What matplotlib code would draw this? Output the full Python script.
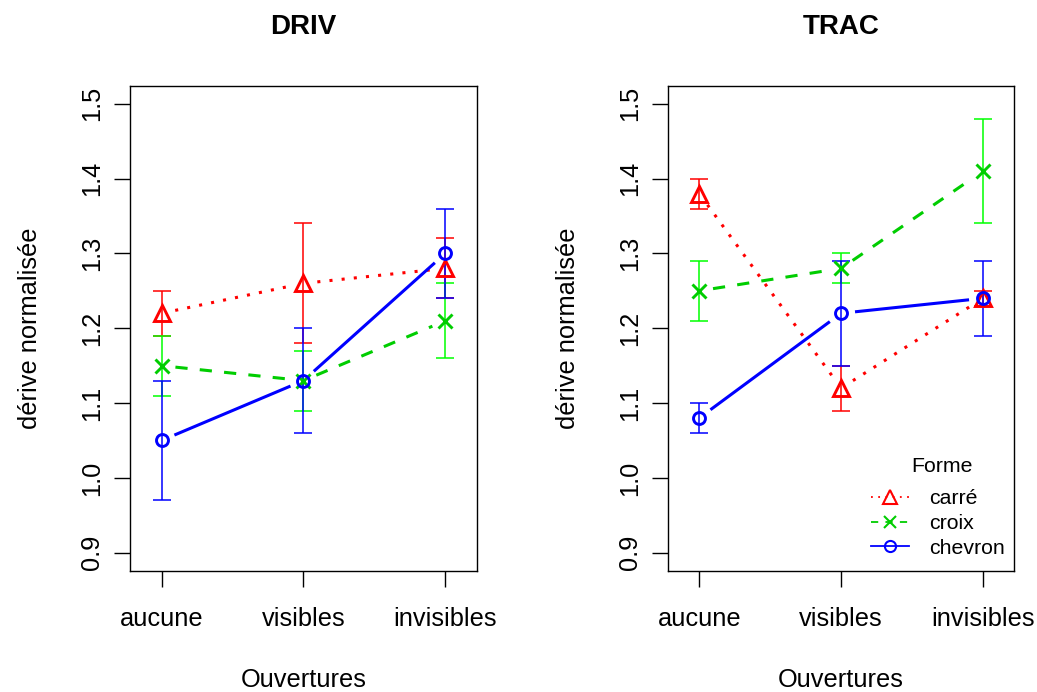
import numpy as np
import matplotlib
matplotlib.use("Agg")
import matplotlib.pyplot as plt
from matplotlib.lines import Line2D

plt.rcParams['font.family'] = ['Liberation Sans', 'DejaVu Sans']

# ---------------- data ----------------
ouvertures = ["aucune", "visibles", "invisibles"]
formes = ["carré", "croix", "chevron"]

# DRIV panel
driv_carre = [1.22, 1.26, 1.28]
driv_carre_lo = [1.19, 1.18, 1.24]
driv_carre_hi = [1.25, 1.34, 1.32]
driv_croix = [1.15, 1.13, 1.21]
driv_croix_lo = [1.11, 1.09, 1.16]
driv_croix_hi = [1.19, 1.17, 1.26]
driv_chevron = [1.05, 1.13, 1.30]
driv_chevron_lo = [0.97, 1.06, 1.24]
driv_chevron_hi = [1.13, 1.20, 1.36]

# TRAC panel
trac_carre = [1.38, 1.12, 1.24]
trac_carre_lo = [1.36, 1.09, 1.23]
trac_carre_hi = [1.40, 1.15, 1.25]
trac_croix = [1.25, 1.28, 1.41]
trac_croix_lo = [1.21, 1.26, 1.34]
trac_croix_hi = [1.29, 1.30, 1.48]
trac_chevron = [1.08, 1.22, 1.24]
trac_chevron_lo = [1.06, 1.15, 1.19]
trac_chevron_hi = [1.10, 1.29, 1.29]

yticks = [0.9, 1.0, 1.1, 1.2, 1.3, 1.4, 1.5]

panels = [
    ("DRIV", [(driv_carre, driv_carre_lo, driv_carre_hi),
              (driv_croix, driv_croix_lo, driv_croix_hi),
              (driv_chevron, driv_chevron_lo, driv_chevron_hi)]),
    ("TRAC", [(trac_carre, trac_carre_lo, trac_carre_hi),
              (trac_croix, trac_croix_lo, trac_croix_hi),
              (trac_chevron, trac_chevron_lo, trac_chevron_hi)]),
]

# ---------------- styles ----------------
line_colors = ["#FF0000", "#00CD00", "#0000FF"]
err_colors = ["#FF0000", "#00FF00", "#0000FF"]
markers = ["^", "x", "o"]
msizes = [12, 10, 8.6]
lstyles = [(0, (1, 3)), (0, (4, 4)), "-"]
LW = 2.2
FS = 18.3

W, H = 1037, 692
fig = plt.figure(figsize=(W / 100, H / 100), dpi=100)

ax_lefts = [130, 667.7]
ax_w = 346.5
ax_top, ax_bot = 85.8, 570.7


def gapped_line(ax, xs, ys, gap, **kw):
    pts = ax.transData.transform(np.column_stack([xs, ys]))
    inv = ax.transData.inverted()
    for i in range(len(pts) - 1):
        p0, p1 = pts[i], pts[i + 1]
        d = p1 - p0
        L = np.hypot(*d)
        if L <= 2 * gap:
            continue
        u = d / L
        seg = inv.transform(np.array([p0 + u * gap, p1 - u * gap]))
        ax.plot(seg[:, 0], seg[:, 1], **kw)


for pi, (title, series) in enumerate(panels):
    ax = fig.add_axes([ax_lefts[pi] / W, 1 - ax_bot / H, ax_w / W, (ax_bot - ax_top) / H])
    x = np.arange(1, len(ouvertures) + 1)
    ax.set_xlim(0.778, 3.22)
    ax.set_ylim(0.876, 1.524)
    for si, (vals, lo, hi) in enumerate(series):
        vals = np.array(vals); lo = np.array(lo); hi = np.array(hi)
        ax.errorbar(x, vals, yerr=[vals - lo, hi - vals], fmt='none',
                    ecolor=err_colors[si], elinewidth=1.1, capsize=6.2,
                    capthick=1.1, zorder=2)
    for si, (vals, lo, hi) in enumerate(series):
        gapped_line(ax, x, vals, 14, color=line_colors[si], lw=LW,
                    linestyle=lstyles[si], zorder=3, solid_capstyle='butt',
                    dash_capstyle='butt')
        ax.plot(x, vals, linestyle='none', marker=markers[si], ms=msizes[si],
                mfc='none', mec=line_colors[si], mew=2.1, zorder=4)

    ax.set_xticks(x)
    ax.set_xticklabels(ouvertures, fontsize=FS)
    ax.set_yticks(yticks)
    ax.set_yticklabels([f"{v:.1f}" for v in yticks], fontsize=FS,
                       rotation=90, va='center')
    ax.tick_params(axis='both', direction='out', length=11.5, width=1.0,
                   color='black')
    ax.tick_params(axis='x', pad=14.5)
    ax.tick_params(axis='y', pad=7)
    for s in ax.spines.values():
        s.set_linewidth(1.0)
    ax.set_title(title, fontsize=20, fontweight='bold', pad=37)
    ax.text(0.5, (ax_bot - 680) / (ax_bot - ax_top), "Ouvertures",
            transform=ax.transAxes, ha='center', va='center', fontsize=FS)
    ax.text((30 - 130) / ax_w, 0.5, "dérive normalisée", transform=ax.transAxes,
            ha='center', va='center', rotation=90, fontsize=FS)

    if pi == 1:
        handles = [Line2D([0], [0], color=line_colors[i], lw=1.3,
                          linestyle=[(0, (1, 3)), (0, (4, 4)), '-'][i],
                          marker=markers[i], ms=[9.5, 8, 8][i], mfc='none',
                          mec=line_colors[i], mew=1.5)
                   for i in range(3)]
        leg = ax.legend(handles, formes, loc='upper left',
                        bbox_to_anchor=((871 - 667.7) / ax_w, (ax_bot - 489) / (ax_bot - ax_top)),
                        frameon=False, fontsize=15.3,
                        handlelength=1.8, handletextpad=0.92, labelspacing=0.28,
                        borderpad=0, borderaxespad=0)
        ax.text((942 - 667.7) / ax_w, (ax_bot - 466) / (ax_bot - ax_top), "Forme",
                transform=ax.transAxes, ha='center', va='center', fontsize=15.3)

fig.savefig("out.png", dpi=100)
